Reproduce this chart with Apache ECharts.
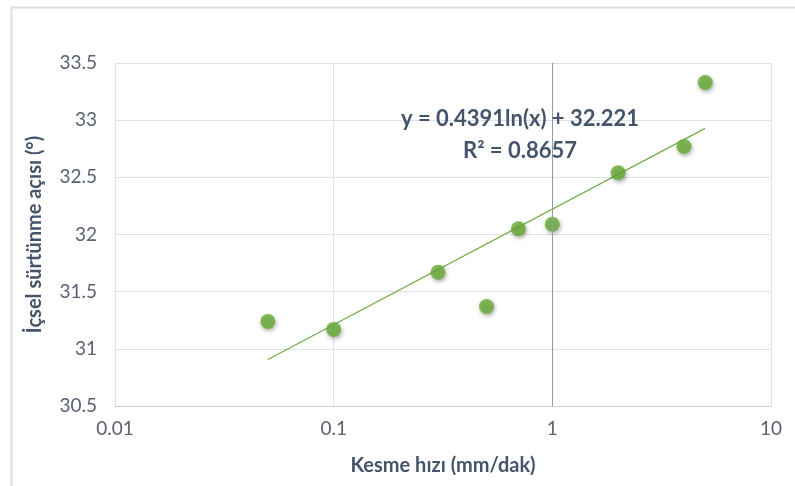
<!DOCTYPE html>
<html>
<head>
<meta charset="utf-8">
<script src="https://cdn.jsdelivr.net/npm/echarts@6/dist/echarts.min.js"></script>
<style>html,body{margin:0;padding:0;background:#fff}#c{width:795px;height:486px}</style>
</head>
<body>
<div id="c"></div>
<script>
// Data
var speeds = [0.05, 0.1, 0.3, 0.5, 0.7, 1, 2, 4, 5];
var angles = [31.24, 31.17, 31.67, 31.37, 32.05, 32.09, 32.54, 32.77, 33.33];
// Trendline end points (y = 0.4391 ln(x) + 32.221 at x = 0.05 and x = 5)
var trendX = [0.05, 5];
var trendY = [30.906, 32.928];
var xTicks = ['0.01', '0.1', '1', '10'];
var yTicks = ['30.5', '31', '31.5', '32', '32.5', '33', '33.5'];
var eqLine1 = 'y = 0.4391ln(x) + 32.221';
var eqLine2 = 'R² = 0.8657';

var font = 'Lato, "Open Sans", sans-serif';
var chart = echarts.init(document.getElementById('c'), null, {renderer: 'canvas'});
var scatterData = speeds.map(function (v, i) { return [v, angles[i]]; });
var trendData = trendX.map(function (v, i) { return [v, trendY[i]]; });

chart.setOption({
  animation: false,
  backgroundColor: '#ffffff',
  grid: {left: 115, right: 24, top: 63, bottom: 80},
  xAxis: {
    type: 'log', logBase: 10, min: 0.01, max: 10,
    name: 'Kesme hızı (mm/dak)', nameLocation: 'middle', nameGap: 50,
    nameTextStyle: {fontFamily: font, fontSize: 20, fontWeight: 'bold', color: '#44546a'},
    axisLine: {show: true, lineStyle: {color: '#cdd2da', width: 1}},
    axisTick: {show: false},
    axisLabel: {
      fontFamily: font, fontSize: 19, color: '#5a6272', margin: 13,
      formatter: function (v) {
        var e = Math.round(Math.log10(v));
        return xTicks[e + 2];
      }
    },
    splitLine: {show: true, lineStyle: {color: '#dde1e8', width: 1}},
    minorTick: {show: false}
  },
  yAxis: {
    type: 'value', min: 30.5, max: 33.5, interval: 0.5,
    name: 'İçsel sürtünme açısı (°)', nameLocation: 'middle', nameGap: 70, nameRotate: 90,
    nameTextStyle: {fontFamily: font, fontSize: 20, fontWeight: 'bold', color: '#44546a'},
    axisLine: {show: false},
    axisTick: {show: false},
    axisLabel: {
      fontFamily: font, fontSize: 19, color: '#5a6272', margin: 18,
      formatter: function (v) {
        var idx = Math.round((v - 30.5) / 0.5);
        return yTicks[idx];
      }
    },
    splitLine: {show: true, lineStyle: {color: '#dde1e8', width: 1}}
  },
  series: [
    {
      type: 'line', data: trendData, symbol: 'none', silent: true, z: 2,
      lineStyle: {color: '#70ad47', width: 1.2},
      markLine: {
        silent: true, symbol: 'none', label: {show: false},
        lineStyle: {color: '#8b9bb2', width: 1, type: 'solid'},
        data: [{xAxis: 1}]
      }
    },
    {
      type: 'scatter', data: scatterData, symbol: 'circle', symbolSize: 15, z: 3,
      itemStyle: {
        color: '#66ac33',
        shadowColor: 'rgba(0,0,0,0.4)', shadowBlur: 4, shadowOffsetX: 1, shadowOffsetY: 2
      }
    }
  ],
  graphic: [
    {
      type: 'rect', silent: true, z: 0,
      shape: {x: 11.5, y: 7.5, width: 820, height: 520},
      style: {fill: 'none', stroke: '#dadee6', lineWidth: 2}
    },
    {
      type: 'text', silent: true, z: 10,
      x: 520, y: 119,
      style: {text: eqLine1, fontFamily: font, fontSize: 22, fontWeight: 'bold', fill: '#44546a', align: 'center', verticalAlign: 'middle'}
    },
    {
      type: 'text', silent: true, z: 10,
      x: 520, y: 151,
      style: {text: eqLine2, fontFamily: font, fontSize: 22, fontWeight: 'bold', fill: '#44546a', align: 'center', verticalAlign: 'middle'}
    }
  ]
});
</script>
</body>
</html>
